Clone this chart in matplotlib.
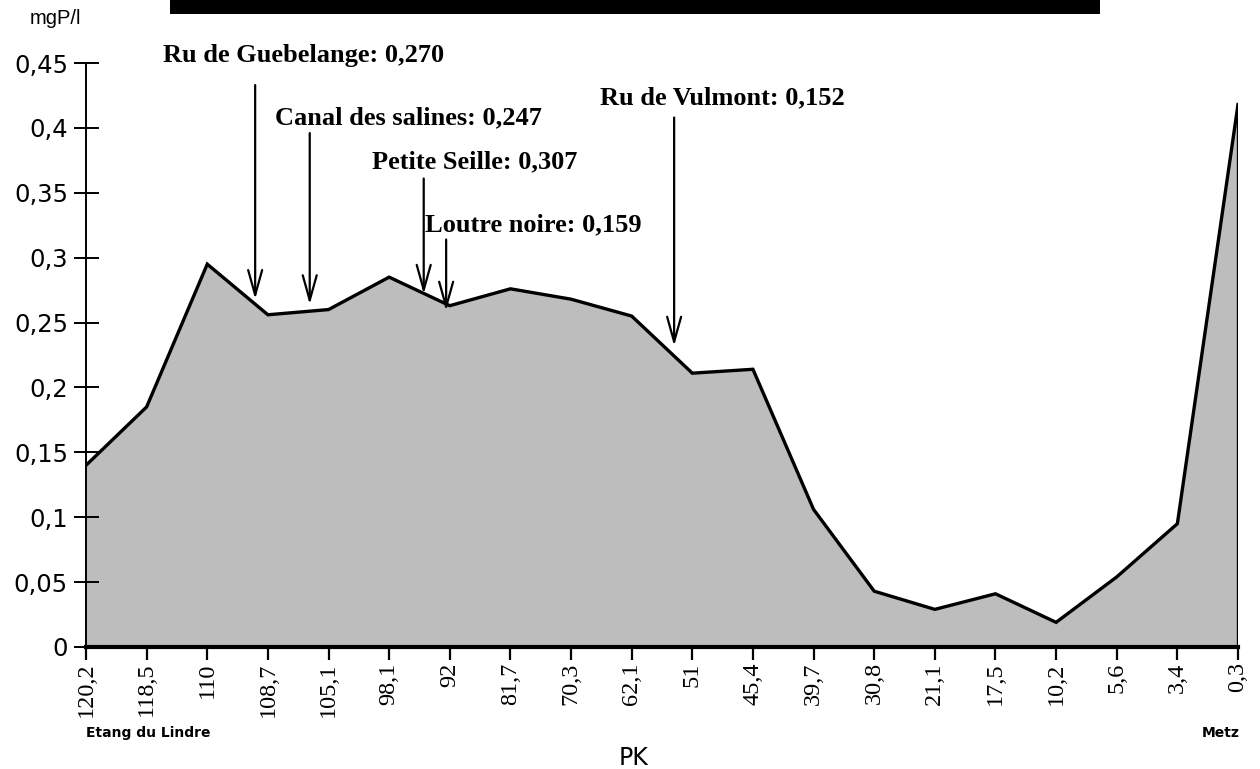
import matplotlib
matplotlib.use("Agg")
import matplotlib.pyplot as plt
from matplotlib.patches import Rectangle

# ---- data ----
pk_labels = ['120,2', '118,5', '110', '108,7', '105,1', '98,1', '92', '81,7', '70,3',
             '62,1', '51', '45,4', '39,7', '30,8', '21,1', '17,5', '10,2', '5,6', '3,4', '0,3']
phosphore = [0.140, 0.185, 0.295, 0.256, 0.260, 0.285, 0.263, 0.276, 0.268, 0.255,
             0.211, 0.214, 0.106, 0.043, 0.029, 0.041, 0.019, 0.054, 0.095, 0.418]
y_ticks = [0, 0.05, 0.1, 0.15, 0.2, 0.25, 0.3, 0.35, 0.4, 0.45]
y_tick_labels = ['0', '0,05', '0,1', '0,15', '0,2', '0,25', '0,3', '0,35', '0,4', '0,45']
annot_labels = ['Ru de Guebelange: 0,270', 'Canal des salines: 0,247', 'Petite Seille: 0,307',
                'Loutre noire: 0,159', 'Ru de Vulmont: 0,152']

# ---- layout for annotations (arrow x, arrow start y, arrow tip y, text x, text y) ----
annot_layout = [
    (2.79, 0.433, 0.268, 1.27, 0.456),
    (3.69, 0.396, 0.264, 3.12, 0.408),
    (5.57, 0.361, 0.272, 4.72, 0.374),
    (5.94, 0.314, 0.259, 5.59, 0.325),
    (9.70, 0.408, 0.232, 8.48, 0.423),
]

W, H = 1260, 769
fig = plt.figure(figsize=(W / 100, H / 100), dpi=100)
ax = fig.add_axes([86 / W, 1 - 647 / H, (1238 - 86) / W, (647 - 63) / H])

x = list(range(len(pk_labels)))
ax.fill_between(x, 0, phosphore, facecolor='#bdbdbd', edgecolor='none', zorder=1)
ax.plot(x, phosphore, color='black', lw=2.4, zorder=3, solid_joinstyle='miter')
ax.plot([x[-1], x[-1]], [0, phosphore[-1]], color='black', lw=2.4, zorder=3)

ax.set_xlim(0, len(pk_labels) - 1)
ax.set_ylim(0, 0.45)

for s in ['top', 'right']:
    ax.spines[s].set_visible(False)
ax.spines['left'].set_linewidth(1.4)
ax.spines['bottom'].set_linewidth(3)

ax.set_yticks(y_ticks)
ax.set_yticklabels(y_tick_labels, fontfamily='DejaVu Sans', fontsize=17.5)
ax.tick_params(axis='y', direction='inout', length=18, width=1.4, pad=4)

ax.set_xticks(x)
ax.set_xticklabels(pk_labels, rotation=90, fontfamily='Liberation Serif', fontsize=17.5)
ax.tick_params(axis='x', direction='out', length=9, width=1.6, pad=2)

for lab, (ax_x, y0, y1, tx, ty) in zip(annot_labels, annot_layout):
    ax.annotate('', xy=(ax_x, y1), xytext=(ax_x, y0), xycoords='data',
                arrowprops=dict(arrowstyle='->,head_length=1.0,head_width=0.28',
                                mutation_scale=18, lw=1.6, color='black',
                                shrinkA=0, shrinkB=0), annotation_clip=False, zorder=5)
    ax.text(tx, ty, lab, fontfamily='Liberation Serif', fontweight='bold', fontsize=19,
            ha='left', va='center', clip_on=False, zorder=6)

fig.text(30 / W, 1 - 19 / H, 'mgP/l', fontfamily='Liberation Sans', fontsize=14.5,
         ha='left', va='center')
fig.text(634 / W, 1 - 758 / H, 'PK', fontfamily='DejaVu Sans', fontsize=17,
         ha='center', va='center')
fig.text(86 / W, 1 - 733 / H, 'Etang du Lindre', fontfamily='DejaVu Sans', fontweight='bold',
         fontsize=10, ha='left', va='center')
fig.text(1240 / W, 1 - 733 / H, 'Metz', fontfamily='DejaVu Sans', fontweight='bold',
         fontsize=10, ha='right', va='center')

# truncated title box at the top
fig.patches.append(Rectangle((170 / W, 1 - 14 / H), (1100 - 170) / W, 14 / H,
                             transform=fig.transFigure, facecolor='black',
                             edgecolor='none', zorder=10))

fig.savefig('out.png', dpi=100)
